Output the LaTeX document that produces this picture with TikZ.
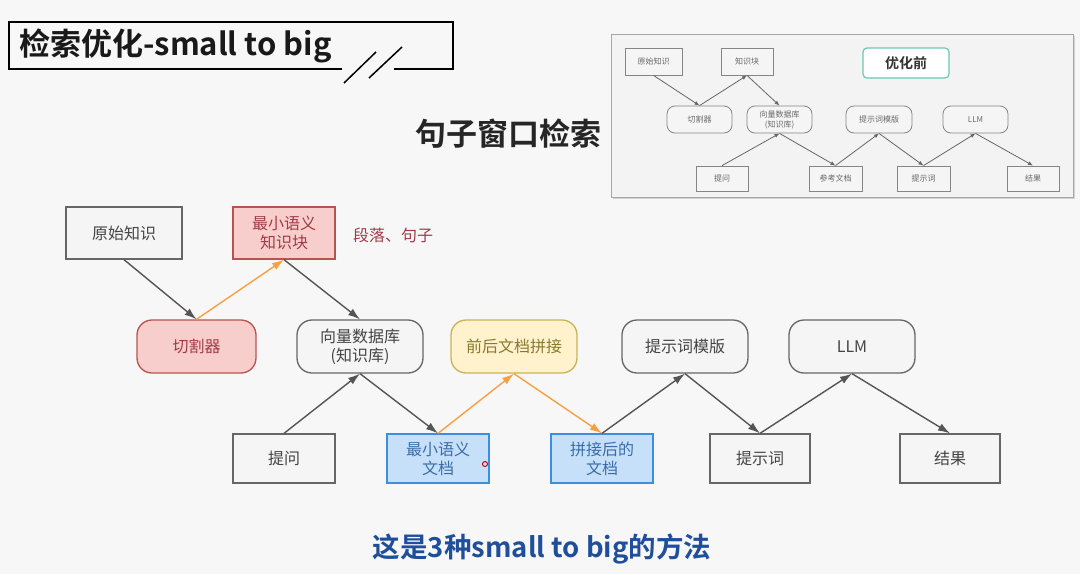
\documentclass[tikz,border=0pt]{standalone}
\usepackage{fontspec}
\setmainfont{Noto Sans CJK SC}
\newfontfamily\cjkb{Noto Sans CJK SC Bold}
\usetikzlibrary{arrows.meta,shadows}
\definecolor{bgc}{HTML}{F7F7F8}
\definecolor{gfill}{HTML}{F5F5F5}
\definecolor{gdraw}{HTML}{666666}
\definecolor{gtext}{HTML}{444444}
\definecolor{rfill}{HTML}{F8CECC}
\definecolor{rdraw}{HTML}{B85450}
\definecolor{rtext}{HTML}{A33A48}
\definecolor{yfill}{HTML}{FFF2CC}
\definecolor{ydraw}{HTML}{C8B455}
\definecolor{ytext}{HTML}{8A7A30}
\definecolor{bfill}{HTML}{C7E0FA}
\definecolor{bdraw}{HTML}{3C8EE0}
\definecolor{btext}{HTML}{3A6DA8}
\definecolor{arr}{HTML}{555555}
\definecolor{orn}{HTML}{F7A040}
\definecolor{capc}{HTML}{1F4F9B}
\definecolor{teal}{HTML}{6CC7B5}
\definecolor{ifill}{HTML}{F3F3F3}
\tikzset{
  nd/.style={draw=gdraw,fill=gfill,text=gtext,line width=1.3pt,font=\fontsize{16}{19}\selectfont,align=center,inner sep=0pt},
  rbox/.style={nd,rectangle},
  rnd/.style={nd,rounded corners=15pt},
  redst/.style={draw=rdraw,fill=rfill,text=rtext},
  yelst/.style={draw=ydraw,fill=yfill,text=ytext},
  bluest/.style={draw=bdraw,fill=bfill,text=btext},
  top/.style={minimum width=#1,minimum height=52pt},
  mid/.style={minimum width=#1,minimum height=53pt},
  bot/.style={minimum width=#1,minimum height=49pt},
  ga/.style={draw=arr,line width=1.4pt,-{Latex[length=12pt,width=8pt]}},
  oa/.style={draw=orn,line width=1.4pt,-{Latex[length=12pt,width=8pt]}},
  sn/.style={draw=gdraw!80,fill=gfill,text=gtext!80,line width=0.8pt,font=\fontsize{8}{10}\selectfont,align=center,inner sep=0pt,minimum height=27pt},
  srnd/.style={sn,rounded corners=8pt},
  sa/.style={draw=arr!90,line width=0.8pt,-{Latex[length=5pt,width=4pt]}},
}
\begin{document}
\begin{tikzpicture}[x=1pt,y=-1pt]
\fill[bgc] (0,0) rectangle (1080,574);
\useasboundingbox (0,0) rectangle (1080,574);

% title box
\draw[line width=1.5pt,black] (342,69) -- (9,69) -- (9,22) -- (453,22) -- (453,69) -- (394,69);
\draw[line width=1.5pt,black] (344,83) -- (376,52);
\draw[line width=1.5pt,black] (369,78) -- (402,47);
\node[anchor=west,inner sep=0pt,font=\cjkb\fontsize{31}{34}\selectfont,text=black!90] (title) at (19,46) {检索优化-small to big};

\node[inner sep=0pt,font=\cjkb\fontsize{31}{34}\selectfont,text=black!85] (sub) at (508,134) {句子窗口检索};

% inset panel
\node[draw=gray!70,fill=ifill,line width=1pt,drop shadow={shadow xshift=2pt,shadow yshift=-2pt,opacity=0.3},minimum width=462pt,minimum height=163pt,inner sep=0pt] (panel) at (842,115.5) {};
\node[sn,minimum width=57pt] (s1) at (653.5,61.5) {原始知识};
\node[sn,minimum width=52pt] (s2) at (747,61.5) {知识块};
\node[draw=teal,fill=white,line width=1.2pt,rounded corners=4pt,minimum width=86pt,minimum height=30pt,font=\cjkb\fontsize{14}{16}\selectfont,text=black!80] (s0) at (906,63) {优化前};
\node[srnd,minimum width=65pt] (s3) at (699.5,119.5) {切割器};
\node[srnd,minimum width=65pt] (s4) at (779.5,119.5) {向量数据库\\(知识库)};
\node[srnd,minimum width=66pt] (s5) at (879,119.5) {提示词模版};
\node[srnd,minimum width=65pt] (s6) at (975.5,119.5) {LLM};
\node[sn,minimum width=52pt,minimum height=25pt] (s7) at (722,178.5) {提问};
\node[sn,minimum width=53pt,minimum height=25pt] (s8) at (835.5,178.5) {参考文档};
\node[sn,minimum width=53pt,minimum height=25pt] (s9) at (923.5,178.5) {提示词};
\node[sn,minimum width=52pt,minimum height=25pt] (s10) at (1033,178.5) {结果};
\draw[sa] (s1.south) -- (s3.north);
\draw[sa] (s3.north) -- (s2.south);
\draw[sa] (s2.south) -- (s4.north);
\draw[sa] (s7.north) -- (s4.south);
\draw[sa] (s4.south) -- (s8.north);
\draw[sa] (s8.north) -- (s5.south);
\draw[sa] (s5.south) -- (s9.north);
\draw[sa] (s9.north) -- (s6.south);
\draw[sa] (s6.south) -- (s10.north);

% main diagram
\node[rbox,top=116pt] (yszs) at (124,233) {原始知识};
\node[rbox,redst,top=102pt] (zxk) at (284,233) {最小语义\\知识块};
\node[inner sep=0pt,text=rtext,font=\fontsize{16}{19}\selectfont] (dl) at (393,235) {段落、句子};
\node[rnd,redst,mid=119pt] (qgq) at (196.5,346.5) {切割器};
\node[rnd,mid=126pt] (xl) at (360,346.5) {向量数据库\\(知识库)};
\node[rnd,yelst,mid=126pt] (qh) at (514,346.5) {前后文档拼接};
\node[rnd,mid=126pt] (mb) at (685,346.5) {提示词模版};
\node[rnd,mid=126pt] (llm) at (852,346.5) {LLM};
\node[rbox,bot=102pt] (tw) at (284,458.5) {提问};
\node[rbox,bluest,bot=102pt] (zxw) at (438,458.5) {最小语义\\文档};
\node[rbox,bluest,bot=102pt] (pjh) at (602,458.5) {拼接后的\\文档};
\node[rbox,bot=100pt] (tsc) at (760,458.5) {提示词};
\node[rbox,bot=100pt] (jg) at (950,458.5) {结果};
\draw[red!80!black,line width=1pt] (485,464) circle (2.5pt);

\draw[ga] (yszs.south) -- (qgq.north);
\draw[oa] (qgq.north) -- (zxk.south);
\draw[ga] (zxk.south) -- (xl.north);
\draw[ga] (tw.north) -- (xl.south);
\draw[ga] (xl.south) -- (zxw.north);
\draw[oa] (zxw.north) -- (qh.south);
\draw[oa] (qh.south) -- (pjh.north);
\draw[ga] (pjh.north) -- (mb.south);
\draw[ga] (mb.south) -- (tsc.north);
\draw[ga] (tsc.north) -- (llm.south);
\draw[ga] (llm.south) -- (jg.north);

\node[inner sep=0pt,text=capc,font=\cjkb\fontsize{27.5}{31}\selectfont] (cap) at (542,549) {这是3种small to big的方法};
\end{tikzpicture}
\end{document}
